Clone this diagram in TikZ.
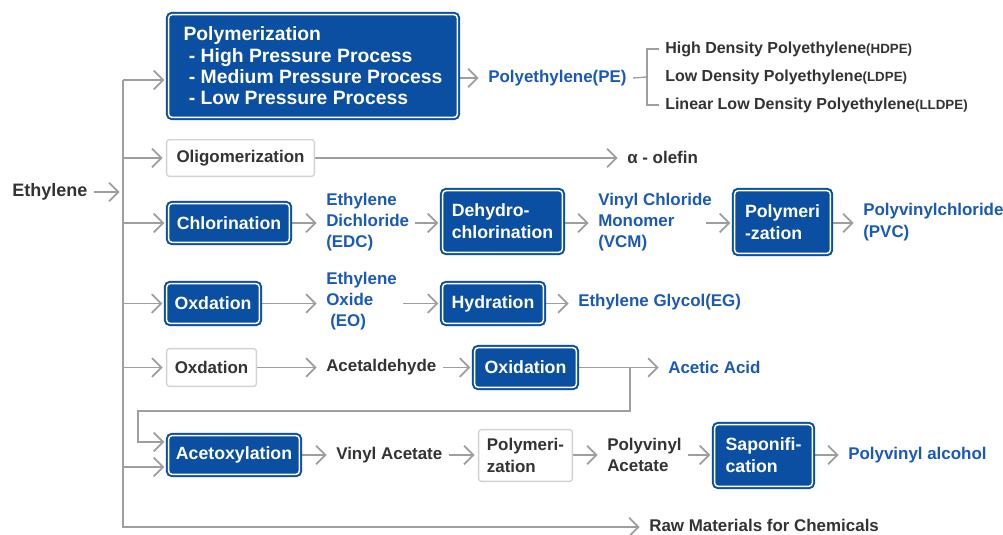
\documentclass[tikz,border=0pt]{standalone}
\usepackage{fontspec}
\setmainfont{Liberation Sans}
\usetikzlibrary{arrows.meta,backgrounds}
\definecolor{boxblue}{HTML}{0A4FA2}
\definecolor{txtblue}{HTML}{1A5AB6}
\definecolor{txtdark}{HTML}{333333}
\definecolor{lngray}{HTML}{9E9E9E}
\definecolor{bdgray}{HTML}{D2D2D2}
\begin{document}
\begin{tikzpicture}[x=0.75pt,y=-0.75pt,
 bluebox/.style={fill=boxblue, draw=boxblue, double=white, double distance=1.1pt, line width=1.5pt, rounded corners=2.5pt, text=white, inner sep=0pt, align=left, font=\bfseries\fontsize{13.3}{16.5}\selectfont},
 whitebox/.style={fill=white, draw=bdgray, line width=1pt, rounded corners=2pt, text=txtdark, inner sep=0pt, align=left, font=\bfseries\fontsize{12.7}{16.5}\selectfont},
 lbl/.style={text=txtdark, inner xsep=4.5pt, inner ysep=0pt, align=left, font=\bfseries\fontsize{12.7}{16}\selectfont, anchor=west},
 blbl/.style={lbl, text=txtblue},
 arr/.style={draw=lngray, line width=1.3pt, shorten >=2.5pt, -{Straight Barb[length=7pt,width=14pt]}},
 ln/.style={draw=lngray, line width=1.3pt},
 thinln/.style={draw=lngray, line width=1pt},
]
\useasboundingbox (0,0) rectangle (1003,535);

% nodes
\node[lbl, font=\bfseries\fontsize{13.5}{16}\selectfont] (eth) at (6,192) {Ethylene};

\node[bluebox, minimum width=216.5pt, minimum height=77pt, font=\bfseries\fontsize{14.5}{16}\selectfont] (poly) at (313,66) {Polymerization\\\hspace*{4pt}- High Pressure Process\\\hspace*{4pt}- Medium Pressure Process\\\hspace*{4pt}- Low Pressure Process};
\node[blbl] (pe) at (482,78) {Polyethylene(PE)};
\node[lbl, font=\bfseries\fontsize{12}{14}\selectfont] (hdpe) at (659,49) {High Density Polyethylene{\fontsize{10}{12}\selectfont(HDPE)}};
\node[lbl, font=\bfseries\fontsize{12}{14}\selectfont] (ldpe) at (659,77) {Low Density Polyethylene{\fontsize{10}{12}\selectfont(LDPE)}};
\node[lbl, font=\bfseries\fontsize{12}{14}\selectfont] (lldpe) at (659,105) {Linear Low Density Polyethylene{\fontsize{10}{12}\selectfont(LLDPE)}};

\node[whitebox, minimum width=110.8pt, minimum height=27.5pt] (oligo) at (240.5,158) {Oligomerization};
\node[lbl] (olefin) at (621,157) {α - olefin};

\node[bluebox, minimum width=90.5pt, minimum height=29pt] (chlor) at (229,223) {Chlorination};
\node[blbl] (edc) at (320,222) {Ethylene\\Dichloride\\(EDC)};
\node[bluebox, minimum width=89.7pt, minimum height=46.2pt] (dehy) at (502.5,221.5) {Dehydro-\\chlorination};
\node[blbl] (vcm) at (592,222) {Vinyl Chloride\\Monomer\\(VCM)};
\node[bluebox, minimum width=71.7pt, minimum height=47pt] (pvcb) at (782.5,222) {Polymeri\\-zation};
\node[blbl] (pvc) at (857,222) {Polyvinylchloride\\(PVC)};

\node[bluebox, minimum width=69.5pt, minimum height=29.7pt] (oxd1) at (213,303.5) {Oxdation};
\node[blbl] (eo) at (320,301) {Ethylene\\Oxide\\\hspace*{3pt}(EO)};
\node[bluebox, minimum width=75.5pt, minimum height=29.7pt] (hydr) at (493,303.5) {Hydration};
\node[blbl] (eg) at (572,302) {Ethylene Glycol(EG)};

\node[whitebox, minimum width=67.3pt, minimum height=28.3pt] (oxd2) at (211.5,367.5) {Oxdation};
\node[lbl] (ald) at (320,367.5) {Acetaldehyde};
\node[bluebox, minimum width=76.2pt, minimum height=29.7pt] (oxid) at (525.5,367.5) {Oxidation};
\node[blbl] (acetic) at (662,367.5) {Acetic Acid};

\node[bluebox, minimum width=98pt, minimum height=29pt] (acetox) at (234,455) {Acetoxylation};
\node[lbl] (vac) at (330,455) {Vinyl Acetate};
\node[whitebox, minimum width=70.3pt, minimum height=38.8pt] (pvab) at (525.5,455.5) {Polymeri-\\zation};
\node[lbl] (pva) at (601,455) {Polyvinyl\\Acetate};
\node[bluebox, minimum width=73.2pt, minimum height=46.2pt] (sapon) at (763.5,455.5) {Saponifi-\\cation};
\node[blbl] (pvoh) at (842,455) {Polyvinyl alcohol};

\node[lbl] (raw) at (643,525.5) {Raw Materials for Chemicals};

% coordinates
\coordinate (t0) at (123,80);
\coordinate (t1) at (123,158);
\coordinate (t2) at (123,223);
\coordinate (t3) at (123,303.5);
\coordinate (t4) at (123,367.5);
\coordinate (t5) at (123,467);
\coordinate (tb) at (123,527);
\coordinate (te) at (123,192);
\coordinate (bk) at (647,77);
\coordinate (bt) at (647,49);
\coordinate (bb) at (647,105);
\coordinate (j1) at (630,367.5);
\coordinate (l1) at (630,411);
\coordinate (l2) at (138,442);
\coordinate (vcmout) at ([xshift=-9pt]vcm.east);

\begin{scope}[on background layer]
\fill[white] (0,0) rectangle (1003,535);
\draw[arr] (eth.east) -- (te);
\draw[arr] (t0) -- (tb) -- (raw.west |- tb);
\draw[arr] (t0) -- (poly.west |- t0);
\draw[arr] (t1) -- (oligo.west |- t1);
\draw[arr] (t2) -- (chlor.west |- t2);
\draw[arr] (t3) -- (oxd1.west |- t3);
\draw[arr] (t4) -- (oxd2.west |- t4);
\draw[arr] (t5) -- (acetox.west |- t5);
% row 1
\draw[arr] (poly.east |- pe.west) -- (pe.west);
\draw[thinln] (pe.east) -- (bk);
\draw[thinln] (hdpe.west) -- (bt) -- (bb) -- (lldpe.west);
% row 2
\draw[arr] (oligo.east) -- (olefin.west |- oligo.east);
% row 3
\draw[arr] (chlor.east) -- (edc.west |- chlor.east);
\draw[arr] (edc.east |- chlor.east) -- (dehy.west |- chlor.east);
\draw[arr] (dehy.east |- chlor.east) -- (vcm.west |- chlor.east);
\draw[arr] (vcmout |- chlor.east) -- (pvcb.west |- chlor.east);
\draw[arr] (pvcb.east |- chlor.east) -- (pvc.west |- chlor.east);
% row 4
\draw[arr] (oxd1.east) -- (eo.west |- oxd1.east);
\draw[arr] (eo.east |- oxd1.east) -- (hydr.west |- oxd1.east);
\draw[arr] (hydr.east) -- (eg.west |- hydr.east);
% row 5
\draw[arr] (oxd2.east) -- (ald.west |- oxd2.east);
\draw[arr] (ald.east |- oxd2.east) -- (oxid.west |- oxd2.east);
\draw[arr] (oxid.east) -- (acetic.west |- oxid.east);
\draw[arr] (j1) -- (l1) -| (l2) -- (acetox.west |- l2);
% row 6
\draw[arr] (acetox.east) -- (vac.west |- acetox.east);
\draw[arr] (vac.east |- acetox.east) -- (pvab.west |- acetox.east);
\draw[arr] (pvab.east |- acetox.east) -- (pva.west |- acetox.east);
\draw[arr] (pva.east |- acetox.east) -- (sapon.west |- acetox.east);
\draw[arr] (sapon.east |- acetox.east) -- (pvoh.west |- acetox.east);
\end{scope}
\end{tikzpicture}
\end{document}
